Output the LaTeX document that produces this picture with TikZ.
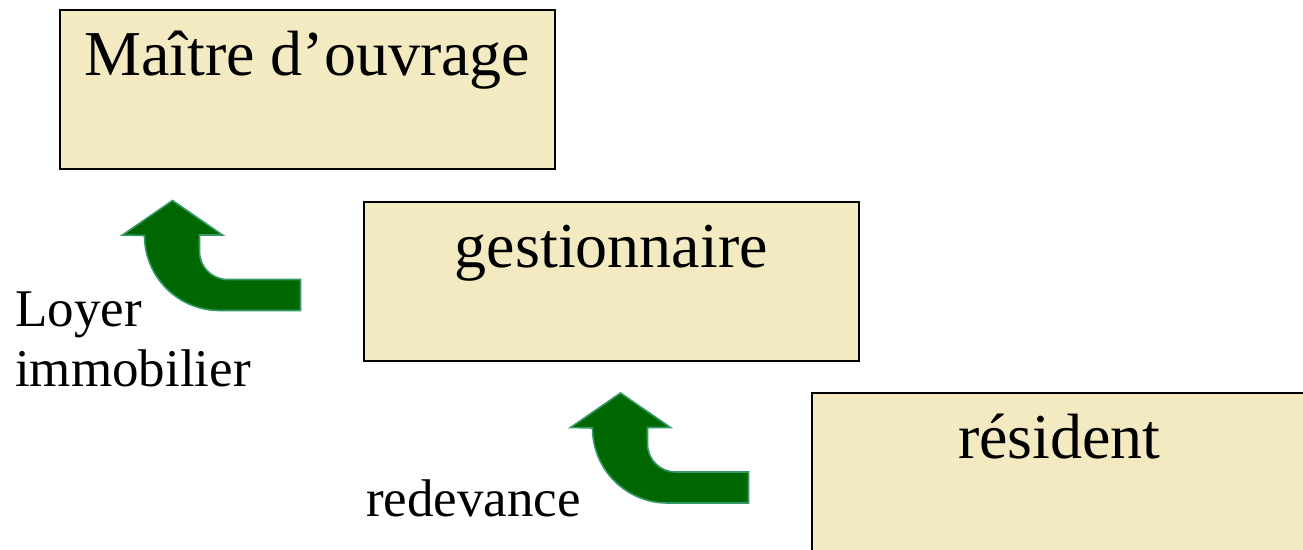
\documentclass[tikz,border=0pt]{standalone}
\usepackage{fontspec}
\setmainfont{Liberation Serif}
\definecolor{boxfill}{RGB}{244,234,193}
\definecolor{arrowfill}{RGB}{0,102,0}
\definecolor{arrowline}{RGB}{51,153,102}
\tikzset{
  box/.style={draw=black, line width=1.6pt, fill=boxfill, rectangle, minimum width=495pt, minimum height=159pt, inner sep=0pt, anchor=north west},
  boxtext/.style={font=\fontsize{64}{77}\selectfont, anchor=base, inner sep=0pt},
  lbl/.style={font=\fontsize{53}{61}\selectfont, anchor=base west, inner sep=0pt, align=left},
  arrowstyle/.style={fill=arrowfill, draw=arrowline, line width=1.6pt, line join=miter},
  bentarrow/.pic={\path[arrowstyle] (0,0) -- (50,34.5) -- (27,34.5) -- (27,51) arc (180:90:28) -- (128,79) -- (128,110) -- (47,110) arc (90:180:75) -- (-50,34.5) -- cycle;}
}
\begin{document}
\begin{tikzpicture}[x=1pt,y=-1pt]
\useasboundingbox (0,0) rectangle (1303,549);
\clip (0,0) rectangle (1303,549);
\node[box] (mo) at (59,9) {};
\node[boxtext] (motext) at ([yshift=-66pt]mo.north) {Maître d’ouvrage};
\node[box] (gest) at (363,201) {};
\node[boxtext] (gesttext) at ([yshift=-66pt]gest.north) {gestionnaire};
\node[box] (res) at (811,392) {};
\node[boxtext] (restext) at ([yshift=-66pt]res.north) {résident};
\pic at (172.5,200.5) {bentarrow};
\pic at (620.5,393) {bentarrow};
\node[lbl] (loyer) at (15,326) {Loyer};
\node[lbl] (immo) at (15,386) {immobilier};
\node[lbl] (redev) at (366,516) {redevance};
\end{tikzpicture}
\end{document}
